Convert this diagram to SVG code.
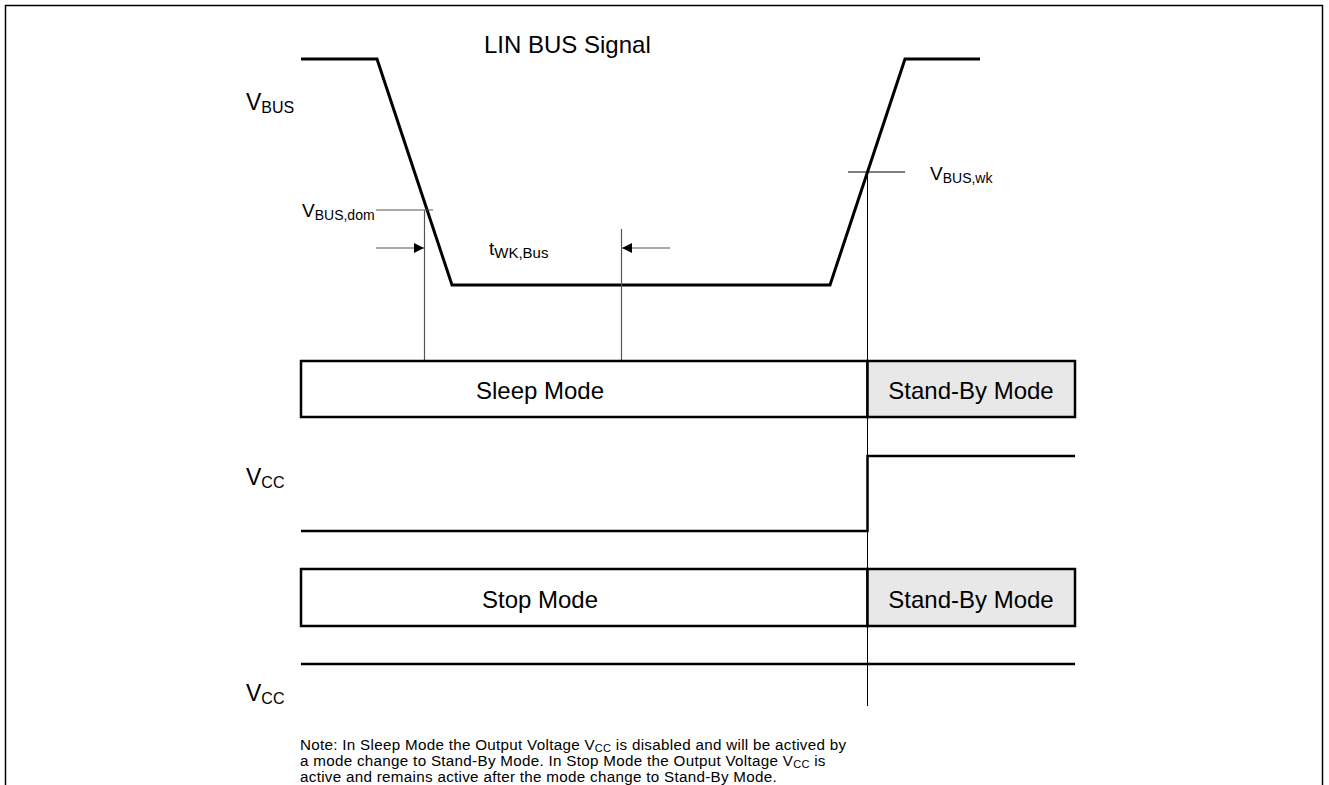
<svg xmlns="http://www.w3.org/2000/svg" width="1329" height="785" viewBox="0 0 1329 785">
<defs>
<style>
text{font-family:"Liberation Sans",Arial,sans-serif;fill:#000}
.big{font-size:24px}
.lbl{font-size:23px}
.sub{font-size:16px}
.sm{font-size:19px}
.smsub{font-size:14px}
.note{font-size:15.2px;letter-spacing:0.3px}
.nsub{font-size:11px}
.sig{fill:none;stroke:#000;stroke-width:3}
.thin{fill:none;stroke:#000;stroke-width:1}
.gray{fill:none;stroke:#555;stroke-width:1.2}
.box{fill:#fff;stroke:#000;stroke-width:2.5}
.sbox{fill:#e8e8e8;stroke:#000;stroke-width:2.5}
</style>
<marker id="ah" viewBox="0 0 10 10" refX="10" refY="5" markerWidth="15" markerHeight="10" markerUnits="userSpaceOnUse" orient="auto">
<path d="M0,0 L10,5 L0,10 Z" fill="#000"/>
</marker>
</defs>
<rect x="0" y="0" width="1329" height="785" fill="#fff"/>
<path d="M5.5,790 V5.5 H1322.5 V790" fill="none" stroke="#000" stroke-width="1.5"/>

<g id="title"><text x="484" y="53" class="big">LIN BUS Signal</text></g>

<g id="labels">
<text x="246" y="110" class="lbl">V<tspan class="sub" dy="3">BUS</tspan></text>
<text x="302" y="217" class="sm">V<tspan class="smsub" dy="3">BUS,dom</tspan></text>
<text x="930" y="180" class="sm">V<tspan class="smsub" dy="3">BUS,wk</tspan></text>
<text x="489" y="255" class="sm">t<tspan class="smsub" dy="3" style="font-size:15px">WK,Bus</tspan></text>
<text x="246" y="485" class="lbl">V<tspan class="sub" dy="3">CC</tspan></text>
<text x="246" y="701" class="lbl">V<tspan class="sub" dy="3">CC</tspan></text>
</g>

<g id="connectors">
<path class="sig" d="M301,59 H377 L452,285 H830 L905,59 H980"/>
<path class="gray" d="M376,210 H433"/>
<path class="gray" d="M424.5,210 V361"/>
<path class="gray" d="M376,248 H424" marker-end="url(#ah)"/>
<path class="gray" d="M621.5,229 V361"/>
<path class="gray" d="M670,248 H622" marker-end="url(#ah)"/>
<path class="thin" d="M848,172 H905"/>
<path class="thin" d="M867.5,172 V706"/>
<path class="sig" d="M301,531 H867.5 V456 H1075" style="stroke-width:2.5"/>
<path class="sig" d="M301,664 H1075" style="stroke-width:2.5"/>
</g>

<g id="sleep"><rect class="box" x="301" y="361" width="566.5" height="56"/><text x="540" y="399" class="big" text-anchor="middle">Sleep Mode</text></g>
<g id="standby1"><rect class="sbox" x="867.5" y="361" width="207.5" height="56"/><text x="971" y="399" class="big" text-anchor="middle">Stand-By Mode</text></g>
<g id="stop"><rect class="box" x="301" y="569" width="566.5" height="57"/><text x="540" y="608" class="big" text-anchor="middle">Stop Mode</text></g>
<g id="standby2"><rect class="sbox" x="867.5" y="569" width="207.5" height="57"/><text x="971" y="608" class="big" text-anchor="middle">Stand-By Mode</text></g>

<g id="note">
<text x="300" y="750" class="note">Note: In Sleep Mode the Output Voltage V<tspan class="nsub" dy="2">CC</tspan><tspan dy="-2"> is disabled and will be actived by</tspan></text>
<text x="300" y="766" class="note">a mode change to Stand-By Mode. In Stop Mode the Output Voltage V<tspan class="nsub" dy="2">CC</tspan><tspan dy="-2"> is</tspan></text>
<text x="300" y="782" class="note">active and remains active after the mode change to Stand-By Mode.</text>
</g>
</svg>
